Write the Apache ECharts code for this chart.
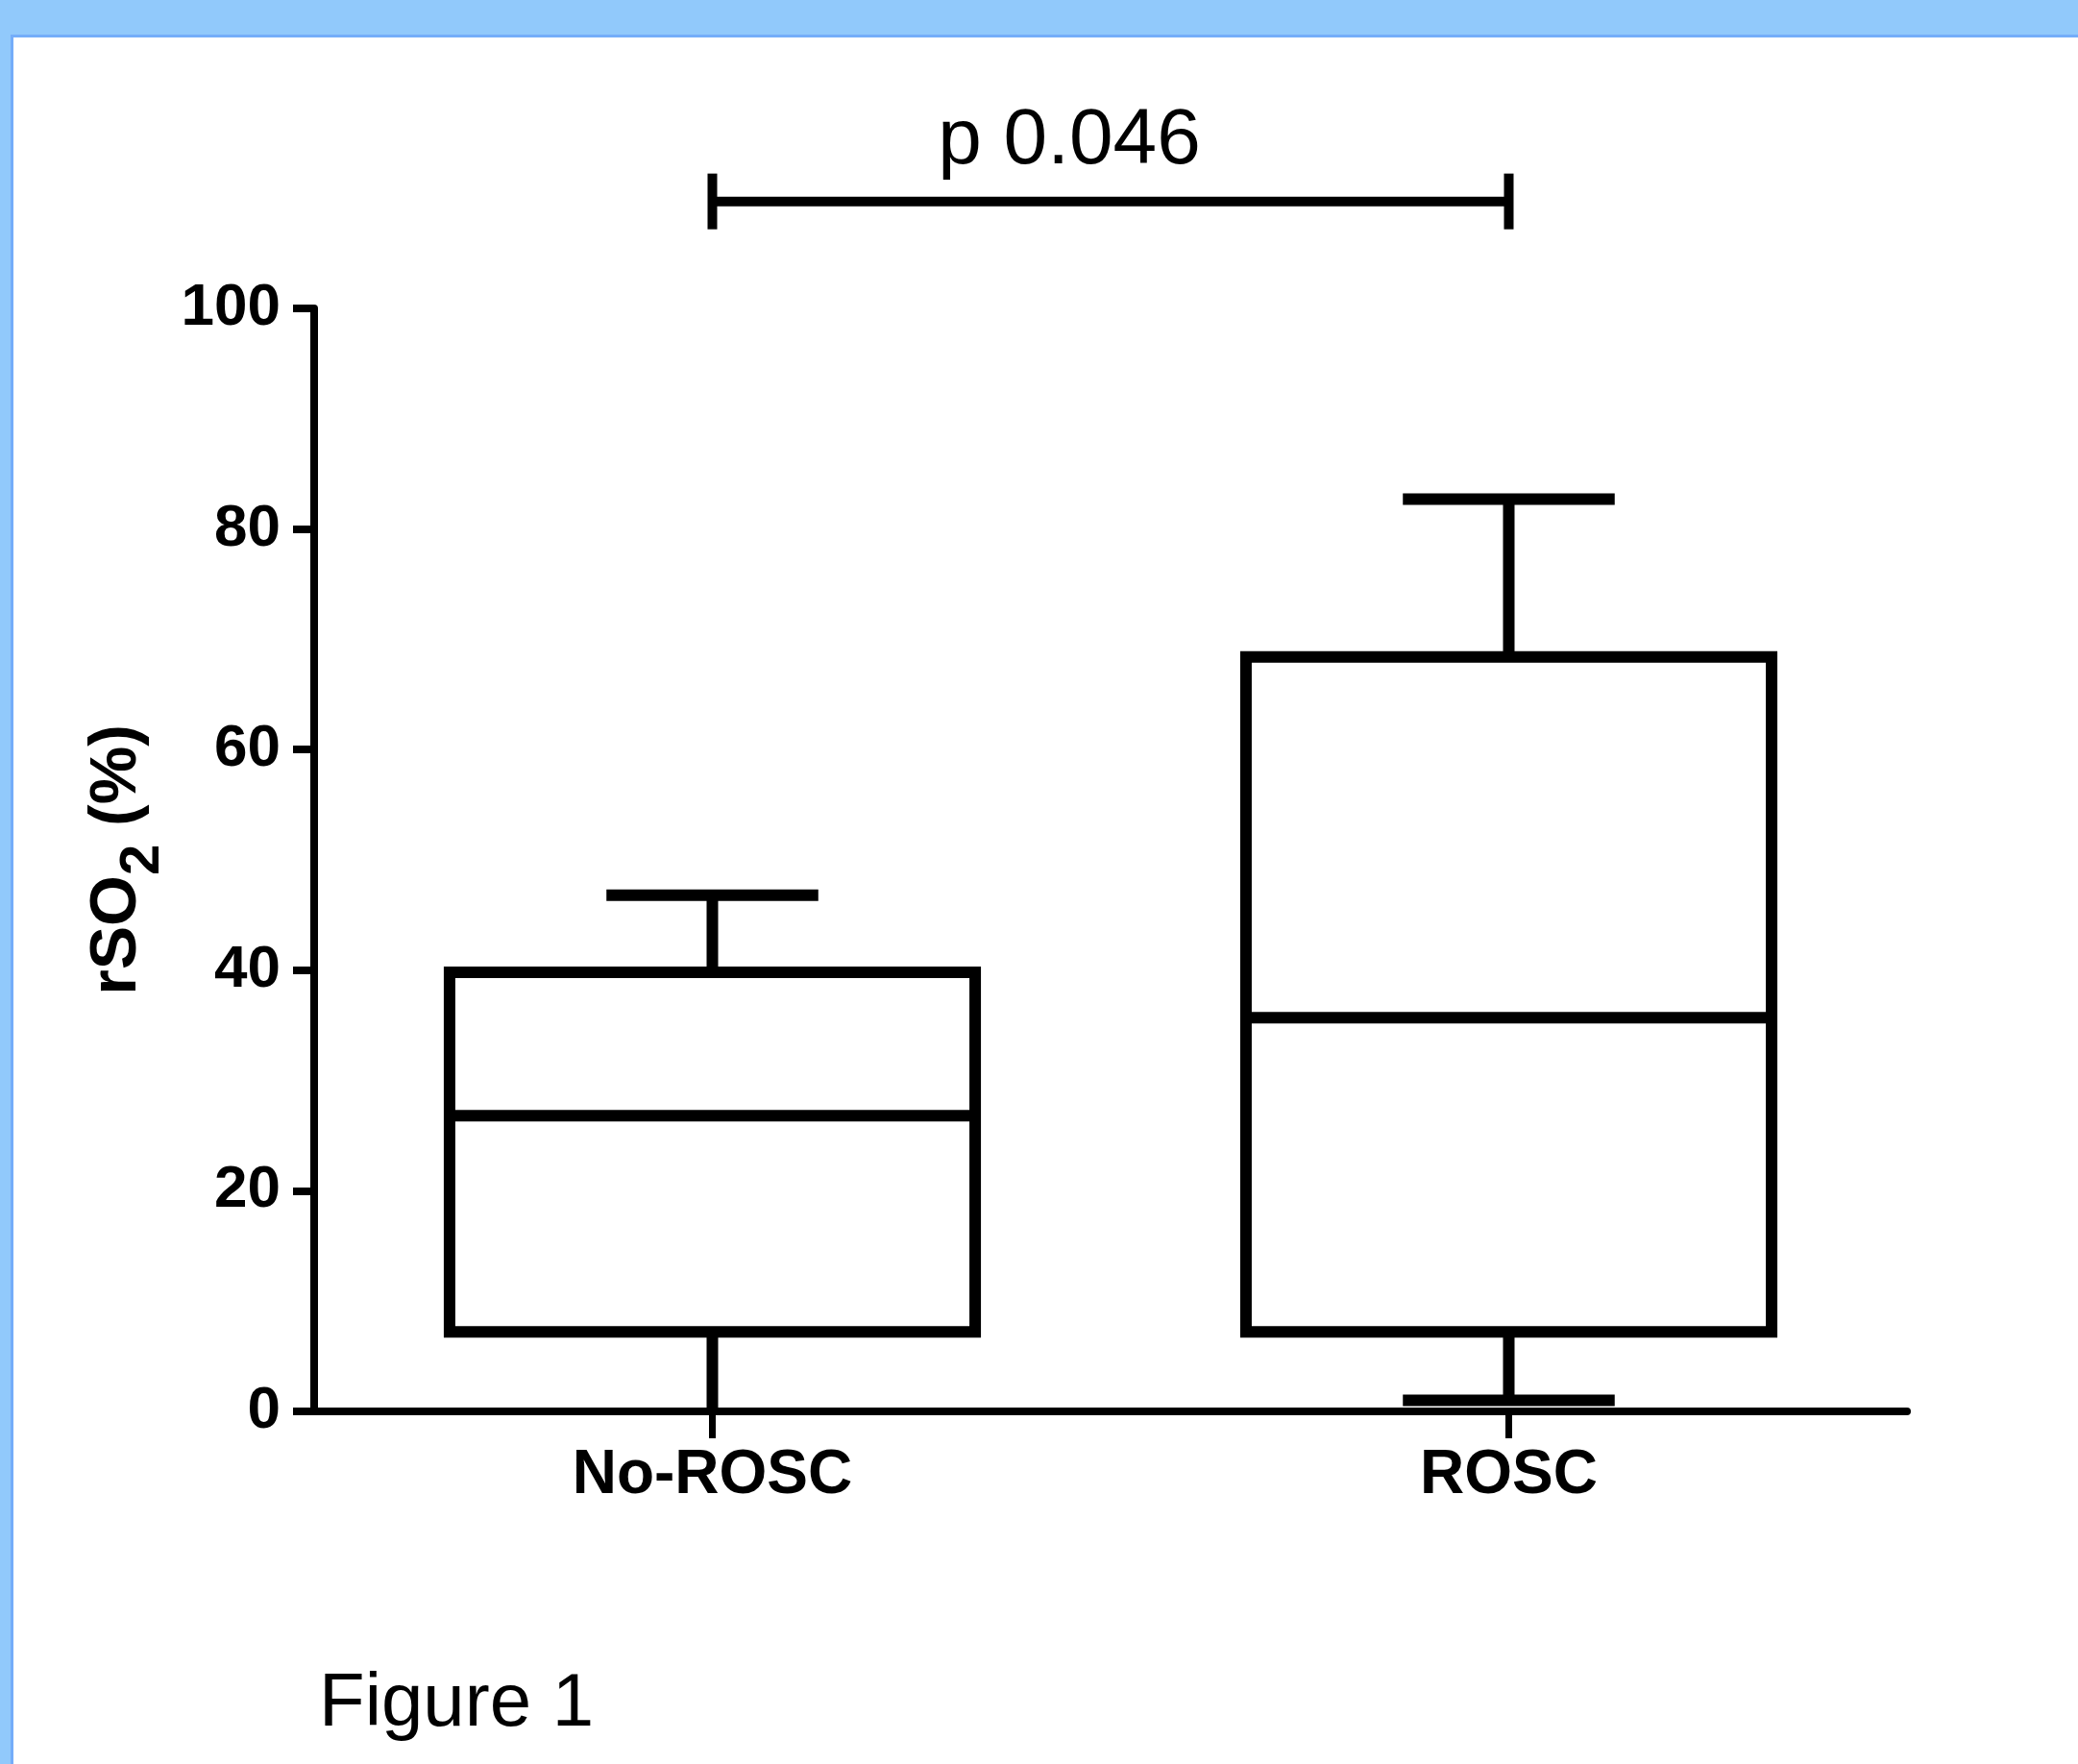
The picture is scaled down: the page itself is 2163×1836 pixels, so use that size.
<!DOCTYPE html>
<html>
<head>
<meta charset="utf-8">
<title>rSO2 box plot</title>
<script src="https://cdn.jsdelivr.net/npm/echarts@6/dist/echarts.min.js"></script>
<style>
  html, body { margin: 0; padding: 0; background: #ffffff; }
  #chart { width: 2163px; height: 1836px; }
</style>
</head>
<body>
<div id="chart"></div>
<script>
// ---- data ----
const categories = ['No-ROSC', 'ROSC'];
const whiskerLow = [0, 1];
const quartile1 = [7.2, 7.2];
const medians = [26.8, 35.7];
const quartile3 = [39.8, 68.4];
const whiskerHigh = [46.8, 82.7];

const yMin = 0;
const yMax = 100;
const yInterval = 20;

const pValueText = 'p 0.046';
const bracketFrom = 0;   // category index
const bracketTo = 1;     // category index
const bracketLevel = 109.7; // in axis units (above plot)
const captionText = 'Figure 1';

// ---- build ----
const boxData = categories.map((c, i) => [i, whiskerLow[i], quartile1[i], medians[i], quartile3[i], whiskerHigh[i]]);

const chart = echarts.init(document.getElementById('chart'), null, { renderer: 'canvas' });

const FONT = '"Liberation Sans", Arial, Helvetica, sans-serif';
const LW = 12;

function renderBox(params, api) {
  const idx = api.value(0);
  const loVal = api.value(1);
  const lo = api.coord([idx, loVal]);
  const q1 = api.coord([idx, api.value(2)]);
  const md = api.coord([idx, api.value(3)]);
  const q3 = api.coord([idx, api.value(4)]);
  const hi = api.coord([idx, api.value(5)]);
  const band = api.size([1, 0])[0];
  const cx = md[0];
  const hb = band * 0.33;
  const hc = band * 0.133;
  const ls = { stroke: '#000', lineWidth: LW, fill: null };
  const children = [
    { type: 'line', shape: { x1: cx, y1: q3[1], x2: cx, y2: hi[1] }, style: ls },
    { type: 'line', shape: { x1: cx - hc, y1: hi[1], x2: cx + hc, y2: hi[1] }, style: ls },
    { type: 'line', shape: { x1: cx, y1: q1[1], x2: cx, y2: lo[1] }, style: ls }
  ];
  // a cap lying on the axis line is hidden by the axis in the reference
  if (loVal > yMin) {
    children.push({ type: 'line', shape: { x1: cx - hc, y1: lo[1], x2: cx + hc, y2: lo[1] }, style: ls });
  }
  children.push(
    { type: 'rect', shape: { x: cx - hb, y: q3[1], width: 2 * hb, height: q1[1] - q3[1] },
      style: { stroke: '#000', lineWidth: LW, fill: '#ffffff' } },
    { type: 'line', shape: { x1: cx - hb, y1: md[1], x2: cx + hb, y2: md[1] }, style: ls }
  );
  return { type: 'group', children: children };
}

function renderBracket(params, api) {
  const a = api.coord([api.value(0), api.value(2)]);
  const b = api.coord([api.value(1), api.value(2)]);
  const ls = { stroke: '#000', lineWidth: 10, fill: null };
  const tick = 29;
  return {
    type: 'group',
    children: [
      { type: 'line', shape: { x1: a[0], y1: a[1], x2: b[0], y2: b[1] }, style: ls },
      { type: 'line', shape: { x1: a[0], y1: a[1] - tick, x2: a[0], y2: a[1] + tick }, style: ls },
      { type: 'line', shape: { x1: b[0], y1: b[1] - tick, x2: b[0], y2: b[1] + tick }, style: ls },
      { type: 'text', x: (a[0] + b[0]) / 2 - 43, y: a[1] - 62,
        style: { text: pValueText, fill: '#000', font: '82px ' + FONT, align: 'center', verticalAlign: 'middle' } }
    ]
  };
}

const option = {
  backgroundColor: '#ffffff',
  animation: false,
  grid: { left: 327, right: 178, top: 321, bottom: 367, containLabel: false },
  xAxis: {
    type: 'category',
    data: categories,
    boundaryGap: true,
    z: 6,
    axisLine: { show: true, lineStyle: { color: '#000', width: 8 } },
    axisTick: { show: true, alignWithLabel: true, length: 28, lineStyle: { color: '#000', width: 7 } },
    axisLabel: { color: '#000', fontSize: 64, fontWeight: 'bold', fontFamily: FONT, margin: 35 },
    splitLine: { show: false }
  },
  yAxis: {
    type: 'value',
    min: yMin,
    max: yMax,
    interval: yInterval,
    z: 6,
    name: '{a|rSO}{s|2}{a| (%)}',
    nameLocation: 'middle',
    nameRotate: 90,
    nameGap: 160,
    nameTextStyle: {
      color: '#000',
      fontFamily: FONT,
      rich: {
        a: { fontSize: 68, lineHeight: 80, fontWeight: 'bold', fontFamily: FONT, color: '#000', verticalAlign: 'middle' },
        s: { fontSize: 58, lineHeight: 60, fontWeight: 'bold', fontFamily: FONT, color: '#000', verticalAlign: 'middle', padding: [52, 0, 0, 0] }
      }
    },
    axisLine: { show: true, lineStyle: { color: '#000', width: 8 } },
    axisTick: { show: true, length: 22, lineStyle: { color: '#000', width: 8 } },
    axisLabel: { color: '#000', fontSize: 62, fontWeight: 'bold', fontFamily: FONT, margin: 35 },
    splitLine: { show: false }
  },
  graphic: [
    { type: 'rect', shape: { x: 0, y: 0, width: 2163, height: 36 }, style: { fill: '#91C9FB' }, z: 10 },
    { type: 'rect', shape: { x: 0, y: 0, width: 11, height: 1836 }, style: { fill: '#91C9FB' }, z: 10 },
    { type: 'rect', shape: { x: 11, y: 36, width: 2152, height: 3 }, style: { fill: '#74ADF9' }, z: 10 },
    { type: 'rect', shape: { x: 11, y: 36, width: 3, height: 1800 }, style: { fill: '#74ADF9' }, z: 10 },
    { type: 'text', x: 332, y: 1774, z: 10,
      style: { text: captionText, fill: '#000', font: '78px ' + FONT, align: 'left', verticalAlign: 'middle' } }
  ],
  series: [
    {
      type: 'custom',
      name: 'box',
      clip: false,
      renderItem: renderBox,
      encode: { x: 0, y: [1, 2, 3, 4, 5] },
      data: boxData,
      z: 2
    },
    {
      type: 'custom',
      name: 'bracket',
      clip: false,
      renderItem: renderBracket,
      encode: { x: 0, y: 2 },
      data: [[bracketFrom, bracketTo, bracketLevel]],
      z: 2
    }
  ]
};

chart.setOption(option);
</script>
</body>
</html>
